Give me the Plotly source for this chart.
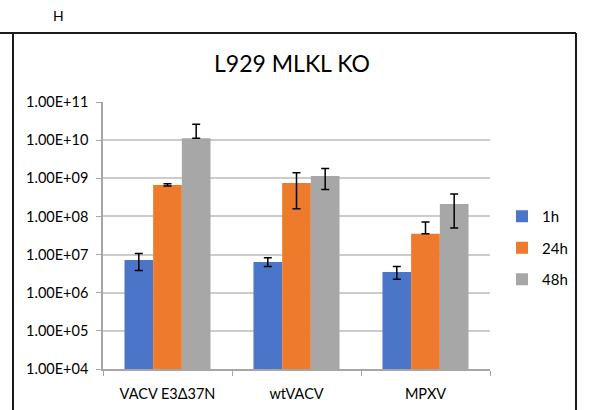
import plotly.graph_objects as go

categories = ["VACV E3Δ37N", "wtVACV", "MPXV"]
series_names = ["1h", "24h", "48h"]
vals_1h = [7.2e6, 6.4e6, 3.5e6]
err_1h_plus = [3.5e6, 1.8e6, 1.4e6]
err_1h_minus = [3.4e6, 1.5e6, 1.25e6]
vals_24h = [6.7e8, 7.5e8, 3.5e7]
err_24h_plus = [4.5e7, 6.5e8, 3.6e7]
err_24h_minus = [4.5e7, 5.9e8, 0]
vals_48h = [1.12e10, 1.15e9, 2.12e8]
err_48h_plus = [1.5e10, 6.5e8, 1.75e8]
err_48h_minus = [0, 6.4e8, 1.62e8]
tick_vals = [1e4, 1e5, 1e6, 1e7, 1e8, 1e9, 1e10, 1e11]
tick_text = ["1.00E+04", "1.00E+05", "1.00E+06", "1.00E+07",
             "1.00E+08", "1.00E+09", "1.00E+10", "1.00E+11"]
colors = ["#4a75c8", "#ee7a2c", "#a7a7a7"]

FONT = "Lato, 'Open Sans', sans-serif"

fig = go.Figure()
data = [(vals_1h, err_1h_plus, err_1h_minus),
        (vals_24h, err_24h_plus, err_24h_minus),
        (vals_48h, err_48h_plus, err_48h_minus)]
for i, (name, (v, ep, em)) in enumerate(zip(series_names, data)):
    fig.add_trace(go.Bar(
        x=categories, y=v, name=name, legendgroup=name,
        marker=dict(color=colors[i], line=dict(width=0)),
        error_y=dict(type="data", array=ep, arrayminus=em, symmetric=False,
                     color="black", thickness=1.5, width=4),
    ))

W, H = 594, 410
L, R, T, B = 103, 490, 102, 369
pw, ph = R - L, B - T
def px(x):
    return (x - L) / pw
def py(y):
    return (B - y) / ph

line_style = dict(color="#1a1a1a", width=2)
fig.add_shape(type="line", xref="paper", yref="paper",
              x0=px(0), x1=px(576), y0=py(33), y1=py(33), line=line_style)
fig.add_shape(type="line", xref="paper", yref="paper",
              x0=px(13), x1=px(13), y0=py(33), y1=py(411), line=line_style)
fig.add_shape(type="line", xref="paper", yref="paper",
              x0=px(576), x1=px(576), y0=py(33), y1=py(411), line=line_style)

fig.add_annotation(text="H", xref="paper", yref="paper", x=px(58), y=py(15),
                   showarrow=False, font=dict(size=14, color="#000000", family=FONT),
                   xanchor="center", yanchor="middle")
fig.add_annotation(text="L929 MLKL KO", xref="paper", yref="paper", x=px(292), y=py(63),
                   showarrow=False, font=dict(size=23, color="#000000", family=FONT),
                   xanchor="center", yanchor="middle")

fig.update_layout(
    width=W, height=H,
    margin=dict(l=L, r=W - R, t=T, b=H - B, autoexpand=False),
    paper_bgcolor="white", plot_bgcolor="white",
    barmode="group", bargap=0.333, bargroupgap=0,
    font=dict(family=FONT, size=13, color="#000000"),
    showlegend=True,
    legend=dict(x=px(502), y=py(248), xanchor="left", yanchor="middle",
                tracegroupgap=9, font=dict(size=15, family=FONT, color="#000000"),
                bgcolor="rgba(0,0,0,0)", itemwidth=30),
    xaxis=dict(showline=True, linecolor="#a6a6a6", linewidth=1.5,
               ticks="outside", tickson="boundaries", ticklen=5, tickcolor="#a6a6a6",
               ticklabelstandoff=11, automargin=False,
               showgrid=False, tickfont=dict(size=14.5, family=FONT, color="#000000")),
    yaxis=dict(type="log", range=[4, 11], tickvals=tick_vals, ticktext=tick_text,
               showline=True, linecolor="#a6a6a6", linewidth=1.5,
               ticks="outside", ticklen=5, tickcolor="#a6a6a6",
               ticklabelstandoff=5, automargin=False,
               showgrid=True, gridcolor="#cccccc", gridwidth=1.5,
               zeroline=False, tickfont=dict(size=14.5, family=FONT, color="#000000")),
)

fig.write_html("out.html")
